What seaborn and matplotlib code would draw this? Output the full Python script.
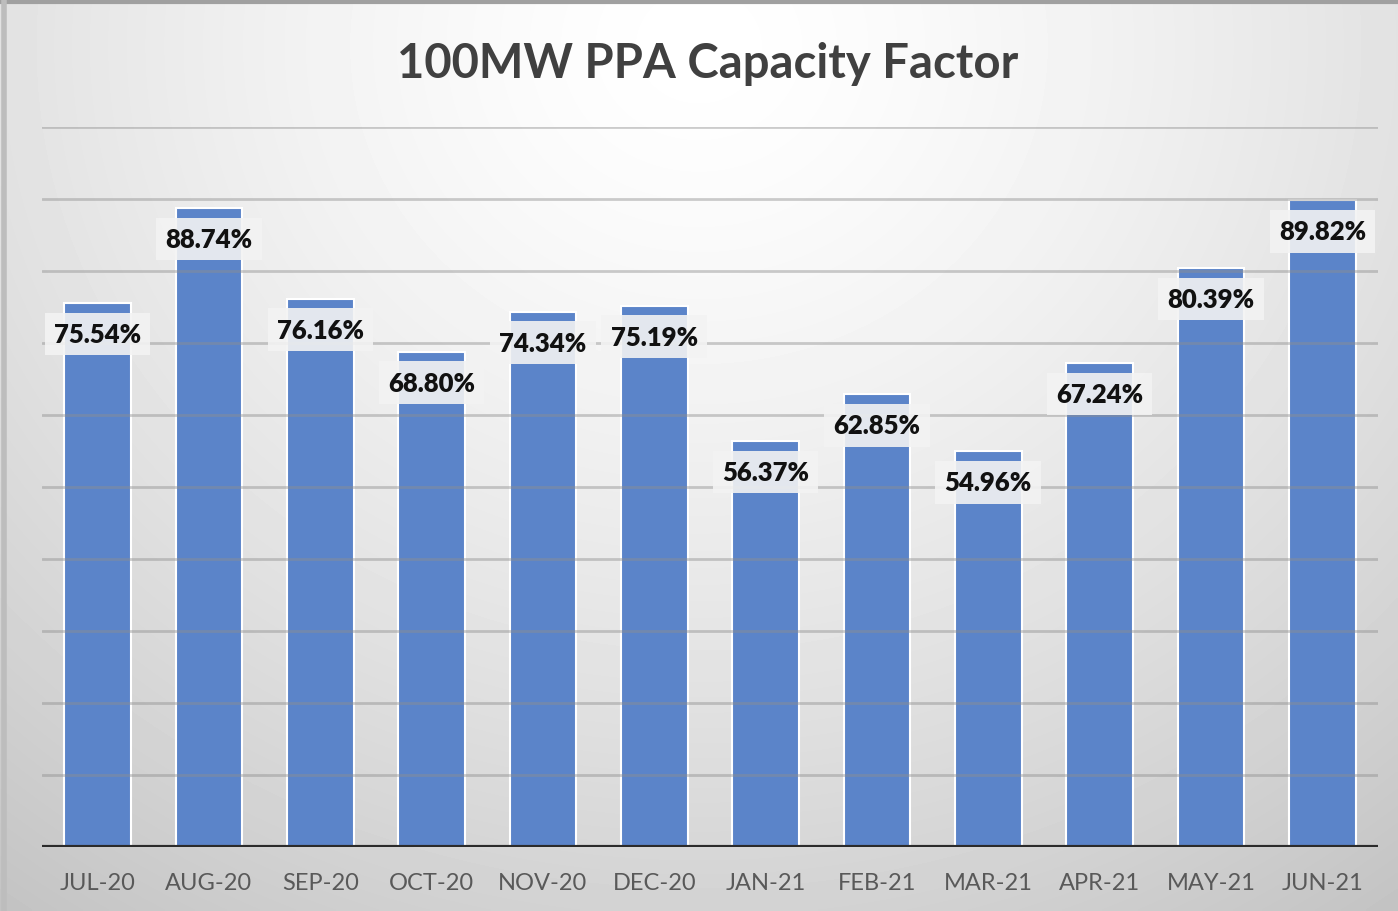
import numpy as np
import pandas as pd
import matplotlib
matplotlib.use("Agg")
import matplotlib.pyplot as plt
import seaborn as sns

sns.set_style("white")
plt.rcParams['font.family'] = ['Lato', 'DejaVu Sans']

# data
months = ['JUL-20', 'AUG-20', 'SEP-20', 'OCT-20', 'NOV-20', 'DEC-20',
          'JAN-21', 'FEB-21', 'MAR-21', 'APR-21', 'MAY-21', 'JUN-21']
capacity = [75.54, 88.74, 76.16, 68.80, 74.34, 75.19,
            56.37, 62.85, 54.96, 67.24, 80.39, 89.82]
grid_levels = [10, 20, 30, 40, 50, 60, 70, 80, 90, 100]

df = pd.DataFrame({'month': months, 'cf': capacity})

fig = plt.figure(figsize=(13.98, 9.12), dpi=100)

# background: soft radial gradient, light at top centre
bg = fig.add_axes([0, 0, 1, 1], zorder=-10)
yy, xx = np.mgrid[0:1:300j, 0:1:460j]
r = np.sqrt(((xx - 0.5) / 0.75) ** 2 + ((yy - 0.05) / 1.05) ** 2)
shade = 1.0 - 0.2 * np.clip(r, 0, 1.2) ** 1.4
bg.imshow(shade, cmap='gray', vmin=0, vmax=1, aspect='auto',
          extent=[0, 1, 1, 0], interpolation='bilinear')
bg.plot([0, 1], [0.997, 0.997], color='#a0a0a0', lw=3, transform=bg.transAxes)
bg.plot([0.003, 0.003], [0, 1], color='#bdbdbd', lw=4, transform=bg.transAxes)
bg.set_xlim(0, 1); bg.set_ylim(1, 0)
bg.axis('off')

ax = fig.add_axes([0.030, 0.0702, 0.9557, 0.7894])
ax.patch.set_alpha(0)
sns.barplot(data=df, x='month', y='cf', color='#5B84C9', saturation=1,
            width=0.6, edgecolor='white', linewidth=1.5, ax=ax, zorder=1)

for g in grid_levels:
    ax.axhline(g, color='#8f8f8f', alpha=0.45, lw=2, zorder=2)
ax.axhline(0, color='#2b2b2b', lw=3, zorder=4)

for i, v in enumerate(capacity):
    ax.text(i, v - 4.3, f'{v:.2f}%', ha='center', va='center',
            fontsize=18.5, fontweight='heavy', color='#111111', zorder=5,
            bbox=dict(boxstyle='square,pad=0.36', fc='#f3f3f3', ec='none', alpha=0.9))

ax.set_ylim(0, 100)
ax.set_xlim(-0.5, 11.5)
ax.set_xlabel('')
ax.set_ylabel('')
ax.set_yticks([])
ax.tick_params(axis='x', length=0, pad=18, labelsize=17, labelcolor='#595959')
for s in ax.spines.values():
    s.set_visible(False)

fig.text(0.506, 0.930, '100MW PPA Capacity Factor', ha='center', va='center',
         fontsize=34, fontweight='bold', color='#404040')

fig.savefig('out.png', dpi=100)
